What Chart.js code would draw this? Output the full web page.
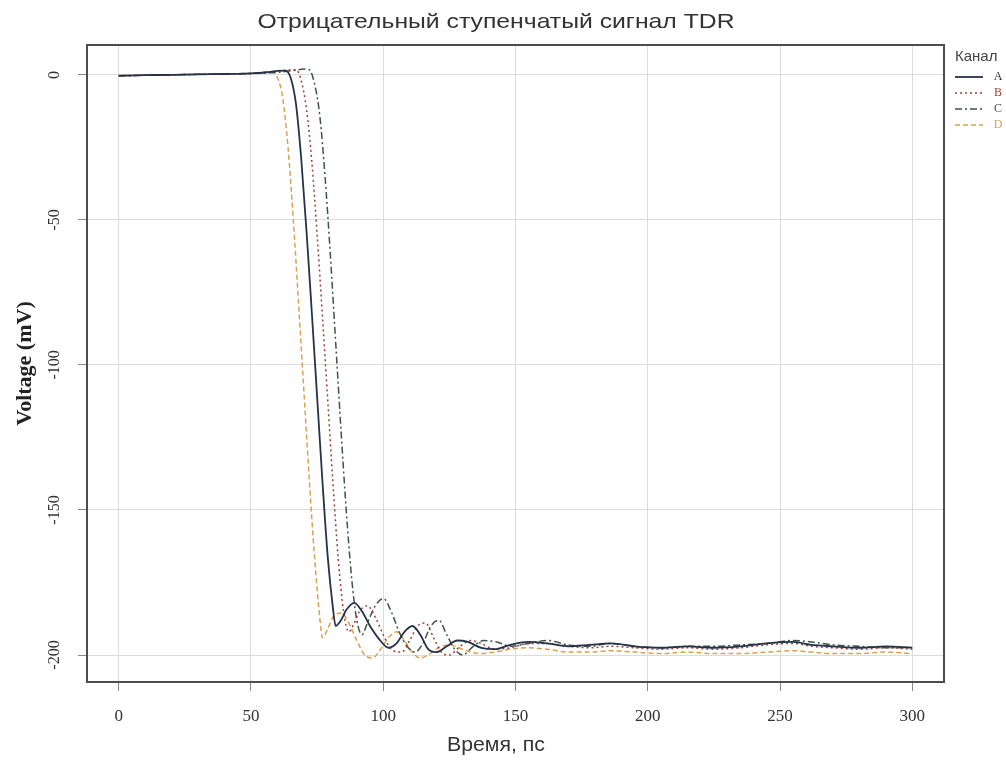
<!DOCTYPE html>
<html>
<head>
<meta charset="utf-8">
<script src="https://cdn.jsdelivr.net/npm/chart.js@4.4.0/dist/chart.umd.min.js"></script>
<style>
  html, body { margin: 0; padding: 0; background: #fff; }
</style>
</head>
<body>
<canvas id="tdr" width="1006" height="762"></canvas>
<script>
// time (ps) and voltage (mV), one pair per channel
const tA = [0, 10, 20, 30, 40, 50, 56, 60, 63, 65, 67, 69, 71, 73, 75, 77, 79, 81, 82, 84, 86, 89, 92, 95, 98, 102, 105, 108, 111, 114, 117, 120, 124, 128, 132, 137, 142, 148, 155, 162, 170, 178, 186, 195, 205, 215, 225, 235, 245, 255, 262, 270, 280, 290, 300];
const vA = [-0.3, -0.1, 0, 0.2, 0.3, 0.5, 0.9, 1.4, 1.5, -1, -10, -29, -54, -82, -111, -140, -166, -184, -190, -188, -184.5, -182, -185, -190, -194, -197.5, -196, -192, -190, -193, -198, -199, -197, -195, -195.5, -197.5, -198, -196.5, -195.5, -196, -197, -196.5, -196, -197, -197.5, -197, -197.5, -197, -196, -195.5, -196.5, -197, -197.5, -197, -197.5];

const tB = [0, 10, 20, 30, 40, 50, 58, 63, 67, 69, 71, 73, 75, 77, 79, 81, 83, 85, 87, 89, 91, 94, 97, 100, 103, 107, 110, 113, 116, 119, 122, 125, 129, 133, 137, 142, 148, 155, 162, 170, 178, 186, 195, 205, 215, 225, 235, 245, 255, 262, 270, 280, 290, 300];
const vB = [-0.3, -0.1, 0, 0.2, 0.3, 0.5, 1.0, 1.6, 1.8, -2, -12, -30, -55, -83, -112, -141, -167, -185, -192, -189, -185, -183, -187, -193, -198, -199, -195, -190, -189, -194, -199, -200, -197, -195, -196, -198, -197.5, -196, -196, -197, -197.5, -197, -197.5, -198, -197.5, -198, -197.5, -196.5, -196, -197, -197.5, -198, -197.5, -198];

const tC = [0, 10, 20, 30, 40, 50, 60, 66, 70, 72, 74, 76, 78, 80, 82, 84, 86, 88, 90, 92, 94, 97, 100, 103, 106, 109, 112, 115, 118, 121, 124, 127, 130, 134, 138, 143, 148, 155, 162, 170, 178, 186, 195, 205, 215, 225, 235, 245, 255, 262, 270, 280, 290, 300];
const vC = [-0.3, -0.1, 0, 0.2, 0.3, 0.5, 0.9, 1.5, 2, 1.8, -3, -14, -35, -62, -92, -122, -150, -173, -188, -193, -189, -183, -180.5, -185, -192, -197, -199, -196, -190, -188, -193, -198, -200, -197, -195, -195.5, -197, -196, -195, -196.5, -197, -196, -197, -197.5, -197, -197, -196.5, -196, -195, -195.5, -196.5, -197, -197.5, -197.5];

const tD = [0, 10, 20, 30, 40, 50, 55, 58, 60, 62, 64, 66, 68, 70, 72, 74, 76, 77, 79, 81, 84, 87, 90, 93, 96, 99, 102, 105, 108, 111, 114, 117, 121, 125, 130, 136, 142, 148, 155, 162, 170, 178, 186, 195, 205, 215, 225, 235, 245, 255, 262, 270, 280, 290, 300];
const vD = [-0.3, -0.1, 0, 0.2, 0.3, 0.6, 0.9, 1.0, -1, -8, -25, -50, -79, -109, -139, -166, -187, -194, -191, -187, -185.5, -189, -195, -200, -201, -198, -194, -192, -195, -199, -201, -200, -197.5, -196.5, -198, -199.5, -199, -198, -197.5, -198, -199, -199, -198.5, -199, -199.5, -199, -199.5, -199.5, -199, -198.5, -199, -199.5, -199.5, -199, -199.5];

const channelNames = ['A', 'B', 'C', 'D'];
const channelColors = ['#24324a', '#a0403a', '#3d5447', '#d9a24e'];
const channelDash = [[], [2, 3], [7, 3, 2, 3], [5, 3]];
const xTicks = [0, 50, 100, 150, 200, 250, 300];
const yTicks = [0, -50, -100, -150, -200];

const chartTitle = 'Отрицательный ступенчатый сигнал TDR';
const xTitle = 'Время, пс';
const yTitle = 'Voltage (mV)';
const legendTitle = 'Канал';

const toPoints = (ts, vs) => ts.map((t, i) => ({ x: t, y: vs[i] }));
const series = [toPoints(tA, vA), toPoints(tB, vB), toPoints(tC, vC), toPoints(tD, vD)];

// text squeezed/stretched to the width it has in the picture
function wideText(ctx, text, cx, cy, width) {
  const w = ctx.measureText(text).width;
  ctx.save();
  ctx.translate(cx, cy);
  ctx.scale(width / w, 1);
  ctx.fillText(text, 0, 0);
  ctx.restore();
}

// title, legend and the frame round the plot
const decor = {
  id: 'decor',
  afterDatasetsDraw(chart) {
    const { ctx, chartArea: a } = chart;
    ctx.save();
    ctx.strokeStyle = '#4d4d4d';
    ctx.lineWidth = 2;
    ctx.strokeRect(a.left, a.top, a.right - a.left, a.bottom - a.top);
    ctx.restore();
  },
  afterDraw(chart) {
    const ctx = chart.ctx;
    ctx.save();
    ctx.fillStyle = '#333';
    ctx.textAlign = 'center';
    ctx.textBaseline = 'middle';
    ctx.font = '21px "Liberation Sans", Arial, sans-serif';
    wideText(ctx, chartTitle, 496, 22, 477);
    wideText(ctx, xTitle, 496, 745, 98);

    // legend
    ctx.textAlign = 'left';
    ctx.fillStyle = '#444';
    ctx.font = '15px "Liberation Sans", Arial, sans-serif';
    ctx.fillText(legendTitle, 955, 57);
    chart.data.datasets.forEach((ds, i) => {
      const y = 77 + i * 16;
      ctx.strokeStyle = ds.borderColor;
      ctx.lineWidth = ds.borderWidth;
      ctx.setLineDash(ds.borderDash);
      ctx.beginPath();
      ctx.moveTo(955, y);
      ctx.lineTo(983, y);
      ctx.stroke();
      ctx.setLineDash([]);
      ctx.fillStyle = ds.borderColor;
      ctx.font = '12px "Liberation Serif", serif';
      ctx.textAlign = 'center';
      ctx.fillText(ds.label, 998, y);
    });
    ctx.restore();
  }
};

new Chart(document.getElementById('tdr'), {
  type: 'line',
  data: {
    datasets: series.map((pts, i) => ({
      label: channelNames[i],
      data: pts,
      borderColor: channelColors[i],
      borderWidth: i === 0 ? 1.8 : 1.5,
      borderDash: channelDash[i],
      pointRadius: 0,
      fill: false,
      cubicInterpolationMode: 'monotone'
    }))
  },
  options: {
    responsive: false,
    animation: false,
    layout: { padding: { left: 0, right: 62, top: 45, bottom: 0 } },
    plugins: {
      legend: { display: false },
      title: { display: false },
      tooltip: { enabled: false }
    },
    scales: {
      x: {
        type: 'linear',
        min: -12,
        max: 312,
        afterBuildTicks: s => { s.ticks = xTicks.map(v => ({ value: v })); },
        afterFit: s => { s.height = 80; },
        border: { display: false },
        grid: { color: '#dcdcdc', tickColor: '#888', tickLength: 9 },
        ticks: {
          color: '#333',
          padding: 15,
          maxRotation: 0,
          font: { family: '"Liberation Serif", serif', size: 17 }
        }
      },
      y: {
        type: 'linear',
        min: -209.3,
        max: 10.3,
        afterBuildTicks: s => { s.ticks = yTicks.map(v => ({ value: v })); },
        afterFit: s => { s.width = 87; },
        border: { display: false },
        grid: { color: '#dcdcdc', tickColor: '#888', tickLength: 9 },
        ticks: {
          color: '#333',
          padding: 9,
          minRotation: 90,
          maxRotation: 90,
          crossAlign: 'center',
          font: { family: '"Liberation Serif", serif', size: 16 }
        },
        title: {
          display: true,
          text: yTitle,
          color: '#222',
          padding: { top: 12, bottom: 0 },
          font: { family: '"Liberation Serif", serif', size: 22, weight: 'bold' }
        }
      }
    }
  },
  plugins: [decor]
});
</script>
</body>
</html>
